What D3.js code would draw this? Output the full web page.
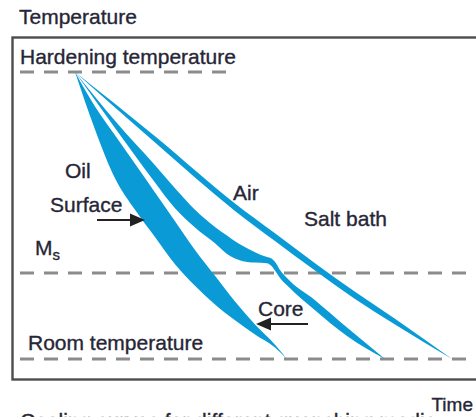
<!DOCTYPE html>
<html><head><meta charset="utf-8">
<script src="https://cdn.jsdelivr.net/npm/d3@7"></script>
<style>
html,body{margin:0;padding:0;background:#fff;overflow:hidden}
svg{display:block}
text{font-family:"Liberation Sans",Arial,sans-serif;font-size:21px;fill:#262636;stroke:#262636;stroke-width:0.35px}
</style></head>
<body>
<script>
// ---- data (time and temperature in relative units 0..100) ----
const refLevels = [100, 30, 0];               // hardening, Ms, room temperature
const refNames  = ["Hardening temperature", "M", "Room temperature"];

const oilTime    = [0, 5, 10, 15, 20, 25, 30, 35, 40, 45, 50, 53];
const oilSurface = [100, 80, 63, 52, 42.5, 33, 25.5, 19, 13.5, 8.5, 4, 0];
const oilCore    = [100, 88, 78, 68, 58, 48, 38, 29, 20, 12, 5, 0];

const airTime    = [0, 10, 20, 25, 30, 35, 38, 40, 42, 45, 48, 49, 50.25, 51.25, 53.5, 60, 68, 77.5];
const airCore    = [100, 83, 67.5, 59.5, 52, 46, 43, 41, 39.4, 37.2, 35.5, 35.1, 33.4, 31, 27.5, 20.5, 11, 0];
const airSurface = [100, 80.5, 61.5, 52.5, 45.8, 40.3, 36.6, 35, 34.1, 33.6, 33.4, 32.6, 30.3, 28.2, 25, 17, 8, 0];

const saltTime  = [0, 20, 40, 50, 60, 70, 80, 94.25];
const saltUpper = [100, 77.6, 54.2, 43.8, 33.4, 23.4, 14, 0];
const saltLower = [100, 75.4, 51.6, 41.1, 30.8, 20.9, 12, 0];

const W = 476, H = 417;
const svg = d3.select("body").append("svg").attr("width", W).attr("height", H);

const x = d3.scaleLinear().domain([0, 100]).range([75, 475]);
const y = d3.scaleLinear().domain([0, 100]).range([359, 72]);

// frame
svg.append("rect").attr("x", 12.5).attr("y", 37.5).attr("width", 500).attr("height", 342)
  .attr("fill", "none").attr("stroke", "#4d4d4d").attr("stroke-width", 2.4);

// dashed reference lines
const dashEnds = [236, 480, 480];
svg.selectAll("line.ref").data(refLevels).join("line").attr("class", "ref")
  .attr("x1", 20).attr("x2", (d, i) => dashEnds[i])
  .attr("y1", d => y(d)).attr("y2", d => y(d))
  .attr("stroke", "#8c8c8c").attr("stroke-width", 3).attr("stroke-dasharray", "14,10");

const blue = "#0a9bd7";
function band(times, upper, lower) {
  const rows = times.map((t, i) => ({t, u: upper[i], l: lower[i]}));
  return d3.area().curve(d3.curveMonotoneX)
    .x(d => x(d.t)).y0(d => y(d.l)).y1(d => y(d.u))(rows);
}
svg.append("path").attr("d", band(oilTime, oilCore, oilSurface)).attr("fill", blue);
svg.append("path").attr("d", band(airTime, airCore, airSurface)).attr("fill", blue);
svg.append("path").attr("d", band(saltTime, saltUpper, saltLower)).attr("fill", blue);

// labels
function label(txt, lx, ly) { return svg.append("text").attr("x", lx).attr("y", ly).text(txt); }
label("Temperature", 19, 24);
label(refNames[0], 20, 64);
label(refNames[2], 28, 350);
const ms = label(refNames[1], 35, 255);
ms.append("tspan").attr("dy", 5).style("font-size", "15px").text("s");
label("Oil", 65, 178);
label("Surface", 50, 212);
label("Air", 233, 200);
label("Salt bath", 304, 226);
label("Core", 258, 316);
label("Time", 473, 411).attr("text-anchor", "end").style("font-size", "19px");
label("Cooling curves for different quenching media", 20, 428);

// arrows
function arrow(x1, x2, ay) {
  const dir = Math.sign(x2 - x1);
  svg.append("line").attr("x1", x1).attr("x2", x2 - dir * 12).attr("y1", ay).attr("y2", ay)
    .attr("stroke", "#222").attr("stroke-width", 2);
  svg.append("path")
    .attr("d", `M${x2},${ay} L${x2 - dir * 15},${ay - 6.5} L${x2 - dir * 15},${ay + 6.5} Z`)
    .attr("fill", "#222");
}
arrow(97, 145, 220);
arrow(308, 256, 324);
</script>
</body></html>
